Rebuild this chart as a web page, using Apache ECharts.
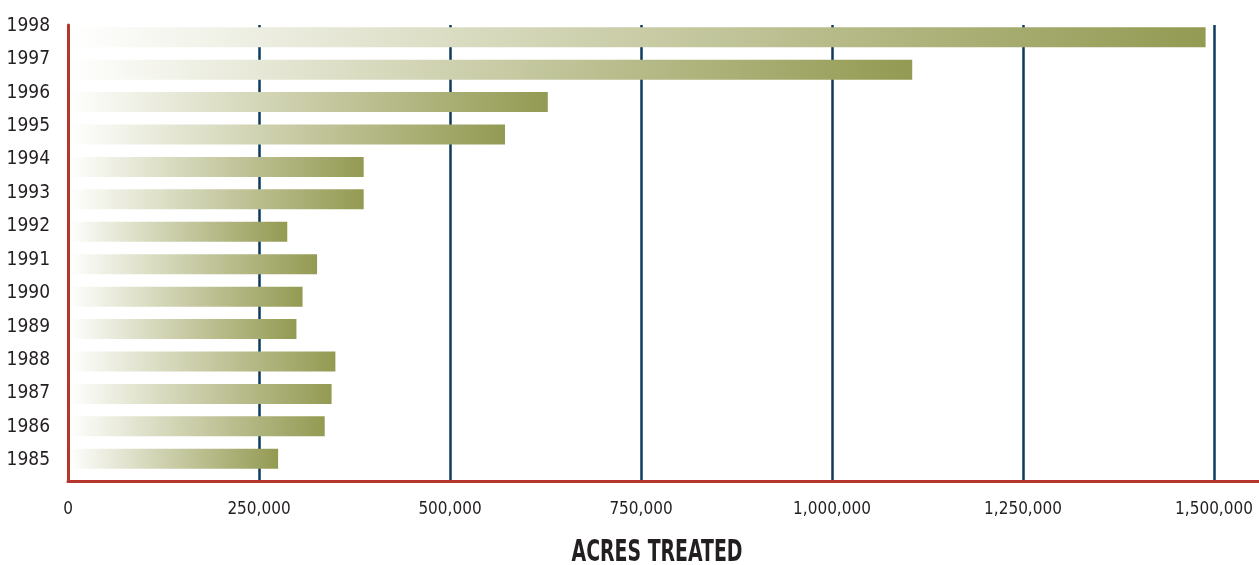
<!DOCTYPE html>
<html>
<head>
<meta charset="utf-8">
<script src="https://cdn.jsdelivr.net/npm/echarts@6/dist/echarts.min.js"></script>
<style>
html,body{margin:0;padding:0;background:#fff;}
#chart{width:1259px;height:565px;}
</style>
</head>
<body>
<div id="chart"></div>
<script>
const years = ['1985','1986','1987','1988','1989','1990','1991','1992','1993','1994','1995','1996','1997','1998'];
const acres = [275000, 336000, 345000, 350000, 299000, 307000, 326000, 287000, 387000, 387000, 572000, 628000, 1105000, 1489000];
const tickStep = 250000;
const tickMax = 1500000;
const xTitle = 'ACRES TREATED';

const FONT = '"Liberation Sans Narrow", "DejaVu Sans Condensed", "Arial Narrow", sans-serif';
const AXIS_MAX = tickMax * (1259 - 68) / (1214 - 68);

const chart = echarts.init(document.getElementById('chart'));
chart.setOption({
  animation: false,
  backgroundColor: '#ffffff',
  grid: [
    { left: 68, right: 0, top: 21, bottom: 90 },   // bars
    { left: 68, right: 0, top: 25, bottom: 84 },   // axes & grid lines
    { left: 58, right: 0, top: 9, bottom: 88 }     // year labels
  ],
  xAxis: [
    { gridIndex: 0, type: 'value', min: 0, max: AXIS_MAX, show: false },
    {
      gridIndex: 1, type: 'value', min: 0, max: AXIS_MAX, interval: tickStep,
      z: 0,
      axisLine: { show: true, lineStyle: { color: '#b5362b', width: 3 } },
      axisTick: { show: false },
      axisLabel: {
        show: true, margin: 20, showMaxLabel: false,
        color: '#231f20', fontFamily: FONT, fontSize: 17,
        formatter: v => (v % tickStep === 0 && v <= tickMax) ? v.toLocaleString('en-US') : ''
      },
      splitLine: { show: true, showMinLine: false, showMaxLine: false, lineStyle: { color: '#0e3a5c', width: 2.5 } }
    },
    { gridIndex: 2, type: 'value', min: 0, max: AXIS_MAX, show: false }
  ],
  yAxis: [
    { gridIndex: 0, type: 'category', data: years, show: false },
    {
      gridIndex: 1, type: 'category', data: years,
      z: 5,
      axisLine: { show: true, lineStyle: { color: '#b5362b', width: 3 } },
      axisTick: { show: false },
      axisLabel: { show: false },
      splitLine: { show: false }
    },
    {
      gridIndex: 2, type: 'category', data: years,
      axisLine: { show: false },
      axisTick: { show: false },
      axisLabel: { show: true, margin: 8, color: '#231f20', fontFamily: FONT, fontSize: 19 },
      splitLine: { show: false }
    }
  ],
  series: [{
    type: 'bar',
    xAxisIndex: 0,
    yAxisIndex: 0,
    data: acres,
    barWidth: 20,
    z: 2,
    itemStyle: {
      color: new echarts.graphic.LinearGradient(0, 0, 1, 0, [
        { offset: 0, color: '#ffffff' },
        { offset: 0.5, color: '#c9cca6' },
        { offset: 1, color: '#939a52' }
      ])
    }
  }],
  graphic: [{
    type: 'text',
    x: 657,
    y: 553,
    scaleX: 0.7,
    style: {
      text: xTitle,
      font: 'bold 30px ' + FONT,
      fill: '#231f20',
      textAlign: 'center',
      textVerticalAlign: 'middle'
    }
  }]
});
</script>
</body>
</html>
